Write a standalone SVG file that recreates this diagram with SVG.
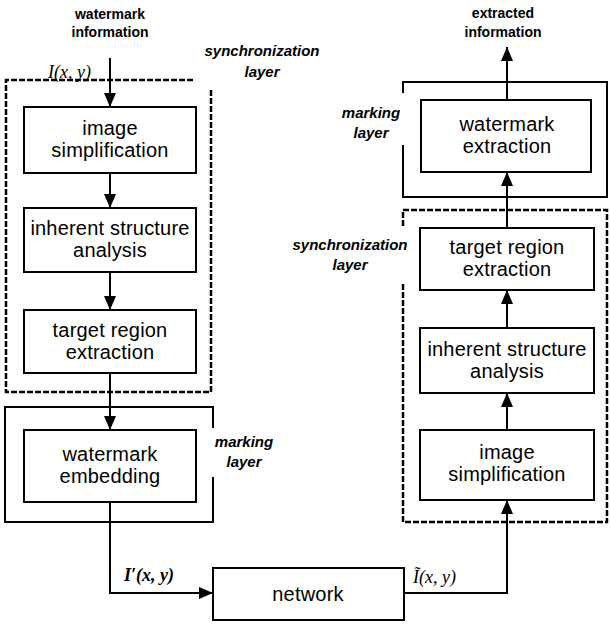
<svg xmlns="http://www.w3.org/2000/svg" width="611" height="624" viewBox="0 0 611 624">
  <defs>
    <marker id="arrow" markerWidth="14" markerHeight="12" refX="14" refY="6" orient="auto" markerUnits="userSpaceOnUse">
      <path d="M0,0 L14,6 L0,12 Z" fill="#000"/>
    </marker>
    <style>
      .box { fill: #fff; stroke: #000; stroke-width: 2; }
      .frame { fill: none; stroke: #000; stroke-width: 2; }
      .dashed { fill: none; stroke: #000; stroke-width: 2.5; stroke-dasharray: 6 2; }
      .label { font-family: "Liberation Sans", Arial, sans-serif; font-size: 20px; letter-spacing: 0.2px; text-anchor: middle; fill: #000; }
      .io { font-family: "Liberation Sans", Arial, sans-serif; font-size: 14px; font-weight: bold; text-anchor: middle; fill: #000; }
      .layer { font-family: "Liberation Sans", Arial, sans-serif; font-size: 15px; font-weight: bold; font-style: italic; text-anchor: middle; fill: #000; }
      .sig { font-family: "Liberation Serif", "Times New Roman", serif; font-size: 18px; font-style: italic; fill: #000; }
      .conn { fill: none; stroke: #000; stroke-width: 2; }
    </style>
  </defs>
  <rect width="611" height="624" fill="#fff"/>

  <!-- layer frames -->
  <g id="frames">
    <path class="dashed" d="M193,80 H6 V392 H211 V88"/>
    <path class="frame" d="M213,428 V407 H5 V522 H213 V477"/>
    <path class="dashed" d="M403,226 V210 H607 V522 H403 V282"/>
    <path class="frame" d="M403,93 V82 H607 V197 H403 V145"/>
  </g>

  <!-- layer captions -->
  <g id="captions">
    <text class="layer" x="262" y="56">synchronization</text>
    <text class="layer" x="262" y="77">layer</text>
    <text class="layer" x="244" y="447">marking</text>
    <text class="layer" x="244" y="467">layer</text>
    <text class="layer" x="350" y="250">synchronization</text>
    <text class="layer" x="350" y="270">layer</text>
    <text class="layer" x="371" y="118">marking</text>
    <text class="layer" x="371" y="138">layer</text>
  </g>

  <!-- connectors -->
  <g id="connectors">
    <line class="conn" x1="110" y1="58" x2="110" y2="107" marker-end="url(#arrow)"/>
    <line class="conn" x1="110" y1="173" x2="110" y2="208" marker-end="url(#arrow)"/>
    <line class="conn" x1="110" y1="272" x2="110" y2="310" marker-end="url(#arrow)"/>
    <line class="conn" x1="110" y1="373" x2="110" y2="430" marker-end="url(#arrow)"/>
    <path class="conn" d="M110,502 V593 H213" marker-end="url(#arrow)"/>
    <path class="conn" d="M404,593 H507 V500" marker-end="url(#arrow)"/>
    <line class="conn" x1="507" y1="430" x2="507" y2="393" marker-end="url(#arrow)"/>
    <line class="conn" x1="507" y1="328" x2="507" y2="290" marker-end="url(#arrow)"/>
    <line class="conn" x1="507" y1="228" x2="507" y2="172" marker-end="url(#arrow)"/>
    <line class="conn" x1="507" y1="100" x2="507" y2="47" marker-end="url(#arrow)"/>
  </g>

  <!-- inputs, outputs and signals -->
  <g id="io">
    <text class="io" x="110" y="19">watermark</text>
    <text class="io" x="110" y="37">information</text>
    <text class="io" x="503" y="18">extracted</text>
    <text class="io" x="503" y="37">information</text>
    <text class="sig" x="48" y="78">I(x, y)</text>
    <text class="sig" x="124" y="581" font-weight="bold">I′(x, y)</text>
    <text class="sig" x="413" y="583">Ĩ(x, y)</text>
  </g>

  <!-- embedding side -->
  <g id="emb-simplification">
    <rect class="box" x="24" y="107" width="172" height="66"/>
    <text class="label" x="110" y="135">image</text>
    <text class="label" x="110" y="157">simplification</text>
  </g>
  <g id="emb-structure">
    <rect class="box" x="24" y="208" width="172" height="64"/>
    <text class="label" x="110" y="235">inherent structure</text>
    <text class="label" x="110" y="257">analysis</text>
  </g>
  <g id="emb-region">
    <rect class="box" x="24" y="310" width="172" height="63"/>
    <text class="label" x="110" y="337">target region</text>
    <text class="label" x="110" y="359">extraction</text>
  </g>
  <g id="embedding">
    <rect class="box" x="24" y="430" width="172" height="72"/>
    <text class="label" x="110" y="461">watermark</text>
    <text class="label" x="110" y="483">embedding</text>
  </g>

  <!-- channel -->
  <g id="network">
    <rect class="box" x="213" y="568" width="191" height="52"/>
    <text class="label" x="308" y="601">network</text>
  </g>

  <!-- extraction side -->
  <g id="ext-simplification">
    <rect class="box" x="420" y="430" width="174" height="70"/>
    <text class="label" x="507" y="459">image</text>
    <text class="label" x="507" y="481">simplification</text>
  </g>
  <g id="ext-structure">
    <rect class="box" x="420" y="328" width="174" height="65"/>
    <text class="label" x="507" y="356">inherent structure</text>
    <text class="label" x="507" y="378">analysis</text>
  </g>
  <g id="ext-region">
    <rect class="box" x="420" y="228" width="174" height="62"/>
    <text class="label" x="507" y="254">target region</text>
    <text class="label" x="507" y="276">extraction</text>
  </g>
  <g id="extraction">
    <rect class="box" x="421" y="100" width="170" height="72"/>
    <text class="label" x="507" y="131">watermark</text>
    <text class="label" x="507" y="153">extraction</text>
  </g>
</svg>
